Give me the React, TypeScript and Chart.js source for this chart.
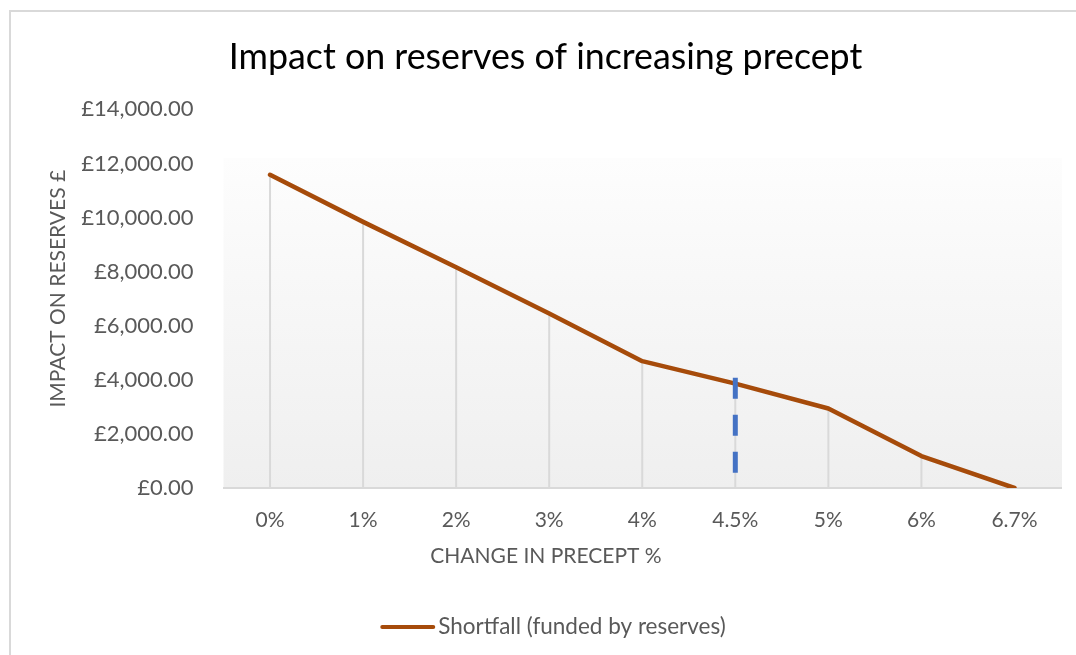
import React, { useEffect, useRef } from "react";
import { Chart, registerables } from "chart.js";

Chart.register(...registerables);

const categories = ["0%", "1%", "2%", "3%", "4%", "4.5%", "5%", "6%", "6.7%"];
const shortfall = [11580, 9840, 8160, 6450, 4690, 3860, 2940, 1180, 0];
const markerCategory = "4.5%";
const markerRange = [4075, 517];
const yTicks = [0, 2000, 4000, 6000, 8000, 10000, 12000, 14000];
const seriesName = "Shortfall (funded by reserves)";

const FONT = "Lato, 'Open Sans', sans-serif";
const TEXT = "#595959";
const BROWN = "#A64B0A";

function fmt(v: number): string {
  const s = Math.round(v).toString().replace(/\B(?=(\d{3})+(?!\d))/g, ",");
  return "£" + s + ".00";
}

const decorPlugin = {
  id: "decor",
  beforeDraw(chart: any) {
    const { ctx, chartArea } = chart;
    ctx.save();
    ctx.fillStyle = "#ffffff";
    ctx.fillRect(0, 0, chart.width, chart.height);
    // frame
    ctx.strokeStyle = "#d9d9d9";
    ctx.lineWidth = 2;
    ctx.beginPath();
    ctx.moveTo(10, chart.height + 5);
    ctx.lineTo(10, 11);
    ctx.lineTo(chart.width + 5, 11);
    ctx.stroke();
    // plot area gradient
    const y = chart.scales.y;
    const top = y.getPixelForValue(12200);
    const g = ctx.createLinearGradient(0, top, 0, chartArea.bottom);
    g.addColorStop(0, "#fdfdfd");
    g.addColorStop(1, "#efefef");
    ctx.fillStyle = g;
    ctx.fillRect(chartArea.left, top, chartArea.right - chartArea.left + 1, chartArea.bottom - top);
    ctx.restore();
  },
  beforeDatasetsDraw(chart: any) {
    const { ctx, chartArea } = chart;
    const meta = chart.getDatasetMeta(1);
    ctx.save();
    ctx.strokeStyle = "#d9d9d9";
    ctx.lineWidth = 2;
    meta.data.forEach((pt: any) => {
      ctx.beginPath();
      ctx.moveTo(pt.x, pt.y);
      ctx.lineTo(pt.x, chartArea.bottom);
      ctx.stroke();
    });
    ctx.restore();
  },
  afterDraw(chart: any) {
    const { ctx, chartArea } = chart;
    ctx.save();
    ctx.fillStyle = TEXT;
    ctx.font = `21px ${FONT}`;
    ctx.textAlign = "center";
    ctx.textBaseline = "middle";
    ctx.fillText("CHANGE IN PRECEPT %", chartArea.left + (chartArea.right - chartArea.left) * 0.385, chartArea.bottom + 68);
    ctx.save();
    ctx.translate(58, (chartArea.top + chartArea.bottom) / 2 - 10);
    ctx.rotate(-Math.PI / 2);
    ctx.fillText("IMPACT ON RESERVES £", 0, 0);
    ctx.restore();
    // legend
    ctx.font = `22.5px ${FONT}`;
    const textW = ctx.measureText(seriesName).width;
    const lineLen = 55;
    const gap = 3;
    const total = lineLen + gap + textW;
    const cx = chart.width / 2 + 15;
    const x0 = cx - total / 2;
    const ly = chart.height - 28;
    ctx.strokeStyle = BROWN;
    ctx.lineWidth = 4;
    ctx.lineCap = "round";
    ctx.beginPath();
    ctx.moveTo(x0 + 2, ly);
    ctx.lineTo(x0 + lineLen - 2, ly);
    ctx.stroke();
    ctx.textAlign = "left";
    ctx.fillStyle = TEXT;
    ctx.fillText(seriesName, x0 + lineLen + gap, ly);
    ctx.restore();
  },
};

export default function App() {
  const ref = useRef<HTMLCanvasElement | null>(null);
  useEffect(() => {
    if (!ref.current) return;
    const chart = new Chart(ref.current, {
      type: "line",
      data: {
        labels: categories,
        datasets: [
          {
            label: "marker",
            data: markerRange.map((v) => ({ x: markerCategory, y: v })),
            borderColor: "#4472C4",
            backgroundColor: "#4472C4",
            borderWidth: 5,
            borderDash: [21, 16],
            borderCapStyle: "butt",
            pointRadius: 0,
            order: 0,
          } as any,
          {
            label: seriesName,
            data: shortfall,
            borderColor: BROWN,
            backgroundColor: BROWN,
            borderWidth: 4.5,
            borderCapStyle: "round",
            borderJoinStyle: "round",
            pointRadius: 0,
            tension: 0,
            order: 1,
          } as any,
        ],
      },
      options: {
        animation: false,
        responsive: false,
        devicePixelRatio: 1,
        layout: { padding: { left: 30, right: 15, top: 26, bottom: 49 } },
        plugins: {
          title: {
            display: true,
            text: "Impact on reserves of increasing precept",
            color: "#000000",
            font: { family: FONT, size: 35.8, weight: "normal" },
            padding: { top: 10, bottom: 30.4 },
          },
          legend: { display: false },
          tooltip: { enabled: false },
        },
        scales: {
          x: {
            type: "category",
            offset: true,
            grid: { display: false },
            border: { display: true, color: "#d9d9d9", width: 2 },
            ticks: { color: TEXT, font: { family: FONT, size: 21 }, padding: 12, maxRotation: 0 },
            afterFit: (s: any) => {
              s.height = 118;
            },
          },
          y: {
            min: 0,
            max: 14000,
            grid: { display: false },
            border: { display: false },
            afterBuildTicks: (s: any) => {
              s.ticks = yTicks.map((v) => ({ value: v }));
            },
            ticks: {
              color: TEXT,
              font: { family: FONT, size: 22 },
              padding: 22,
              callback: (v: any) => fmt(Number(v)),
            },
            afterFit: (s: any) => {
              s.width = 193.5;
            },
          },
        },
      } as any,
      plugins: [decorPlugin],
    });
    return () => chart.destroy();
  }, []);
  return (
    <div style={{ position: "fixed", left: 0, top: 0, width: 1076, height: 655 }}>
      <canvas ref={ref} width={1076} height={655} style={{ display: "block" }} />
    </div>
  );
}
